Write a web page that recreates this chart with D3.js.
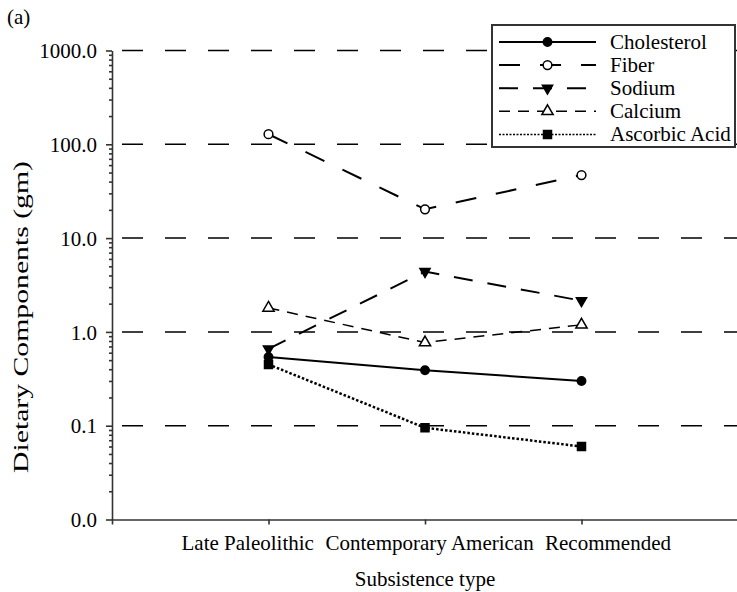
<!DOCTYPE html>
<html>
<head>
<meta charset="utf-8">
<title>Dietary Components</title>
<style>
  body { margin: 0; background: #fff; }
  svg { display: block; }
  .axis path, .axis line { stroke: #333; stroke-width: 1.6px; }
  .grid { stroke: #000; stroke-width: 1.5px; stroke-dasharray: 21,22; }
</style>
</head>
<body>
<svg width="737" height="592"></svg>
<script src="https://d3js.org/d3.v7.min.js"></script>
<script>

// data
var categories = ["Late Paleolithic", "Contemporary American", "Recommended"];
var seriesNames = ["Cholesterol", "Fiber", "Sodium", "Calcium", "Ascorbic Acid"];
var cholesterol = [0.54, 0.39, 0.30];
var fiber = [128, 20.3, 47];
var sodium = [0.66, 4.4, 2.15];
var calcium = [1.8, 0.77, 1.19];
var ascorbic = [0.45, 0.095, 0.06];
var yTicks = [0.01, 0.1, 1, 10, 100, 1000];

var values = [cholesterol, fiber, sodium, calcium, ascorbic];
var serif = "'Liberation Serif', 'DejaVu Serif', serif";

var styles = [
  {dash: null, width: 2, symbol: d3.symbolCircle, size: 55, fill: "#000", rot: 0},
  {dash: "21,20", width: 2, symbol: d3.symbolCircle, size: 60, fill: "#fff", rot: 0},
  {dash: "19,15", width: 2, symbol: d3.symbolTriangle, size: 45, fill: "#000", rot: 180},
  {dash: "11,8", width: 1.5, symbol: d3.symbolTriangle, size: 55, fill: "#fff", rot: 0},
  {dash: "2.5,2", width: 2.5, symbol: d3.symbolSquare, size: 64, fill: "#000", rot: 0}
];

var svg = d3.select("svg");
var plotLeft = 112, plotRight = 738, plotTop = 50.5, plotBottom = 519.5;

var x = d3.scaleLinear().domain([0, 4]).range([plotLeft, plotRight]);
var y = d3.scaleLog().domain([0.01, 1000]).range([plotBottom, plotTop]);

// grid lines
svg.selectAll(".grid")
  .data(yTicks.slice(1))
  .enter().append("line")
  .attr("class", "grid")
  .attr("x1", 122).attr("x2", 737)
  .attr("y1", function(d) { return y(d); })
  .attr("y2", function(d) { return y(d); });

// minor ticks
var minor = [];
for (var e = -2; e < 3; e++) for (var m = 2; m < 10; m++) minor.push(m * Math.pow(10, e));
svg.append("g")
  .attr("class", "axis")
  .attr("transform", "translate(" + plotLeft + ",0)")
  .call(d3.axisLeft(y).tickValues(minor).tickSize(3).tickFormat(""))
  .select(".domain").remove();

svg.append("g")
  .attr("class", "axis")
  .attr("transform", "translate(" + plotLeft + ",0)")
  .call(d3.axisLeft(y).tickValues(yTicks).tickSize(6).tickSizeOuter(0).tickPadding(9).tickFormat(d3.format(".1f")))
  .selectAll("text")
  .attr("dy", "0.34em")
  .style("font-family", serif)
  .style("font-size", "21px")
  .style("fill", "#000");

svg.append("g")
  .attr("class", "axis")
  .attr("transform", "translate(0," + plotBottom + ")")
  .call(d3.axisBottom(x).tickValues([0, 1, 2, 3]).tickSize(5).tickSizeOuter(0).tickFormat(""));

// category labels (squeezed side by side as in the original)
var labelStart = [181.5, 325.5, 545];
svg.selectAll(".cat")
  .data(categories)
  .enter().append("text")
  .attr("class", "cat")
  .attr("x", function(d, i) { return labelStart[i]; })
  .attr("y", 550)
  .style("font-family", serif)
  .style("font-size", "21px")
  .text(function(d) { return d; });

svg.append("text")
  .attr("x", x(2)).attr("y", 586)
  .attr("text-anchor", "middle")
  .style("font-family", serif)
  .style("font-size", "21px")
  .text("Subsistence type");

// the rotated label is stretched in the original
svg.append("text")
  .attr("transform", "translate(28,317) rotate(-90)")
  .attr("x", -156)
  .attr("textLength", 312)
  .attr("lengthAdjust", "spacingAndGlyphs")
  .style("font-family", serif)
  .style("font-size", "21px")
  .text("Dietary Components (gm)");

svg.append("text")
  .attr("x", 7).attr("y", 24)
  .style("font-family", serif)
  .style("font-size", "21px")
  .text("(a)");

var line = d3.line()
  .x(function(d, i) { return x(i + 1); })
  .y(function(d) { return y(d); });

var sym = function(s) { return d3.symbol().type(s.symbol).size(s.size)(); };

values.forEach(function(v, k) {
  var s = styles[k];
  svg.append("path")
    .attr("d", line(v))
    .attr("fill", "none")
    .attr("stroke", "#000")
    .attr("stroke-width", s.width)
    .attr("stroke-dasharray", s.dash);
  svg.selectAll(".pt" + k)
    .data(v)
    .enter().append("path")
    .attr("d", sym(s))
    .attr("transform", function(d, i) { return "translate(" + x(i + 1) + "," + y(d) + ") rotate(" + s.rot + ")"; })
    .attr("fill", s.fill)
    .attr("stroke", "#000")
    .attr("stroke-width", 1.5);
});

// legend
var lg = svg.append("g");
lg.append("rect")
  .attr("x", 492).attr("y", 25)
  .attr("width", 243).attr("height", 122)
  .attr("fill", "#fff")
  .attr("stroke", "#333")
  .attr("stroke-width", 2);

seriesNames.forEach(function(name, k) {
  var s = styles[k];
  var ry = 42 + k * 23.1;
  lg.append("line")
    .attr("x1", 499).attr("x2", 596)
    .attr("y1", ry).attr("y2", ry)
    .attr("stroke", "#000")
    .attr("stroke-width", k === 4 ? 1.5 : s.width)
    .attr("stroke-dasharray", k === 4 ? "2,1.5" : s.dash);
  lg.append("path")
    .attr("d", sym(s))
    .attr("transform", "translate(547.5," + ry + ") rotate(" + s.rot + ")")
    .attr("fill", s.fill)
    .attr("stroke", "#000")
    .attr("stroke-width", 1.5);
  lg.append("text")
    .attr("x", 610).attr("y", ry + 7)
    .style("font-family", serif)
    .style("font-size", "21px")
    .text(name);
});

</script>
</body>
</html>
